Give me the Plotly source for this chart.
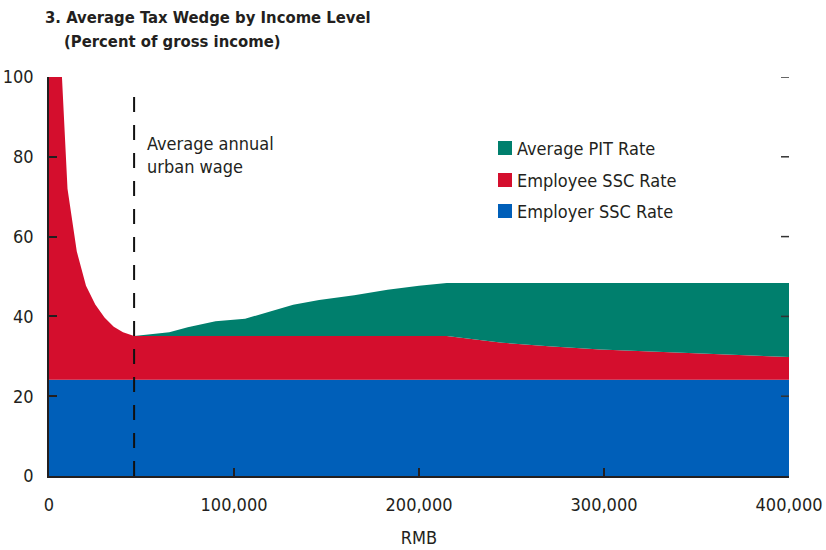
import plotly.graph_objects as go

# Gross annual income (RMB)
income = [0, 7000, 10000, 15000, 20000, 25000, 30000, 35000, 40000, 46000,
          65000, 75000, 90000, 106000, 120000, 132000, 146000, 165000, 183000,
          200000, 215000, 245000, 270000, 298000, 325000, 352000, 379000, 400000]

# Rates in percent of gross income
employer_ssc = [24.1] * len(income)
employee_ssc = [75.9, 75.9, 47.9, 32.2, 23.6, 18.9, 15.6, 13.3, 11.9, 11.0,
                11.0, 11.0, 11.0, 11.0, 11.0, 11.0, 11.0, 11.0, 11.0,
                11.0, 11.0, 9.3, 8.4, 7.6, 7.1, 6.5, 6.1, 5.7]
pit_rate = [0, 0, 0, 0, 0, 0, 0, 0, 0, 0,
            0.9, 2.2, 3.7, 4.3, 6.2, 7.8, 9.0, 10.2, 11.6,
            12.6, 13.25, 14.95, 15.85, 16.65, 17.15, 17.75, 18.15, 18.55]

urban_wage = 46000
series_names = ["Employer SSC Rate", "Employee SSC Rate", "Average PIT Rate"]
series_colors = ["#005FB9", "#D40E2D", "#007F6D"]
x_ticks = [0, 100000, 200000, 300000, 400000]
y_ticks = [0, 20, 40, 60, 80, 100]

FONT = "DejaVu Sans Condensed, Liberation Sans Narrow, Arial Narrow, sans-serif"
INK = "#231F20"

fig = go.Figure()
for name, vals, col in zip(series_names, [employer_ssc, employee_ssc, pit_rate], series_colors):
    fig.add_trace(go.Scatter(
        x=income, y=vals, name=name, mode="lines", stackgroup="tw",
        line=dict(width=0, color=col), fillcolor=col, showlegend=False,
        hoverinfo="skip"))

# plot-area geometry in pixels (used to place the key and notes)
W, H = 826, 550
L, R, T, B = 49, 37, 77, 74
pw, ph = W - L - R, H - T - B
TICK = 8


def px(xp):
    return (xp - L) / pw


def py(yp):
    return (H - B - yp) / ph


shapes = [dict(type="line", xref="x", yref="y", x0=urban_wage, x1=urban_wage,
               y0=0, y1=95, line=dict(color="#111111", width=2, dash="15px,13px"))]

# inward tick marks repeated along the right edge
for v in y_ticks[1:]:
    shapes.append(dict(type="line", xref="paper", yref="y", x0=1 - TICK / pw, x1=1,
                       y0=v, y1=v, line=dict(color="#333333", width=1.5)))

annotations = [
    dict(text="<b>3. Average Tax Wedge by Income Level</b>", xref="paper", yref="paper",
         x=px(43), y=py(17), xanchor="left", yanchor="middle", showarrow=False,
         font=dict(family=FONT, size=16.5, color=INK)),
    dict(text="<b>(Percent of gross income)</b>", xref="paper", yref="paper",
         x=px(62), y=py(41), xanchor="left", yanchor="middle", showarrow=False,
         font=dict(family=FONT, size=16.5, color=INK)),
    dict(text="Average annual<br>urban wage", xref="paper", yref="paper",
         x=px(145), y=py(155), xanchor="left", yanchor="middle", align="left",
         showarrow=False, font=dict(family=FONT, size=18, color=INK)),
]

# key, listed top to bottom
key_rows = [148, 180, 211]
for yc, name, col in zip(key_rows, series_names[::-1], series_colors[::-1]):
    shapes.append(dict(type="rect", xref="paper", yref="paper",
                       x0=px(498), x1=px(512), y0=py(yc + 7), y1=py(yc - 7),
                       fillcolor=col, line=dict(width=0)))
    annotations.append(dict(text=name, xref="paper", yref="paper", x=px(515), y=py(yc),
                            xanchor="left", yanchor="middle", showarrow=False,
                            font=dict(family=FONT, size=18, color=INK)))

fig.update_layout(
    width=W, height=H, margin=dict(l=L, r=R, t=T, b=B, autoexpand=False),
    paper_bgcolor="white", plot_bgcolor="white",
    font=dict(family=FONT, size=18, color=INK),
    shapes=shapes, annotations=annotations, showlegend=False,
    xaxis=dict(range=[0, 400000], tickvals=x_ticks, tickformat=",", ticks="inside",
               ticklen=TICK, tickwidth=1.5, tickcolor=INK, showline=True, linecolor=INK,
               linewidth=1.5, showgrid=False, zeroline=False, ticklabelstandoff=12,
               ticklabeloverflow="allow", automargin=False, layer="above traces",
               title=dict(text="RMB", standoff=17, font=dict(size=18))),
    yaxis=dict(range=[0, 100], tickvals=y_ticks, ticks="inside", ticklen=TICK, tickwidth=1.5,
               tickcolor=INK, showline=True, linecolor=INK, linewidth=1.5,
               showgrid=False, zeroline=False, ticklabelstandoff=10,
               ticklabeloverflow="allow", automargin=False, layer="above traces"),
)

fig.write_html("out.html")
